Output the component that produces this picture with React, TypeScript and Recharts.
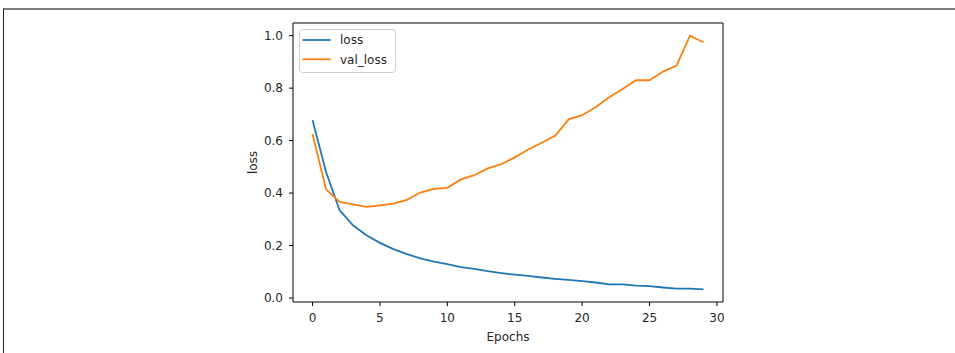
import React from "react";
import { Line, LineChart, ReferenceArea, XAxis, YAxis } from "recharts";

const epochs = [
  0, 1, 2, 3, 4, 5, 6, 7, 8, 9, 10, 11, 12, 13, 14, 15, 16, 17, 18, 19, 20,
  21, 22, 23, 24, 25, 26, 27, 28, 29,
];

const loss = [
  0.678, 0.48, 0.335, 0.277, 0.239, 0.21, 0.186, 0.167, 0.151, 0.139, 0.129,
  0.118, 0.111, 0.102, 0.095, 0.089, 0.084, 0.078, 0.073, 0.069, 0.064, 0.059,
  0.052, 0.052, 0.047, 0.045, 0.04, 0.036, 0.036, 0.033,
];

const valLoss = [
  0.625, 0.414, 0.366, 0.357, 0.347, 0.353, 0.36, 0.374, 0.402, 0.416, 0.42,
  0.452, 0.468, 0.494, 0.51, 0.536, 0.566, 0.592, 0.618, 0.681, 0.697, 0.727,
  0.765, 0.797, 0.83, 0.83, 0.863, 0.886, 1.0, 0.975,
];

const xTicks = [0, 5, 10, 15, 20, 25, 30];
const yTicks = [0, 0.2, 0.4, 0.6, 0.8, 1.0];

const BLUE = "#1f77b4";
const ORANGE = "#ff7f0e";
const FONT = "'DejaVu Sans', sans-serif";
const TEXT = "#262626";

const rows = epochs.map((e, i) => ({ epoch: e, loss: loss[i], val_loss: valLoss[i] }));

// matplotlib-style 5% padding around the data range
const pad = (lo: number, hi: number): [number, number] => {
  const m = (hi - lo) * 0.05;
  return [lo - m, hi + m];
};
const xDomain = pad(Math.min(...epochs), Math.max(...epochs));
const allY = [...loss, ...valLoss];
const yDomain = pad(Math.min(...allY), Math.max(...allY));

const tickStyle = { fill: TEXT, fontSize: 12, fontFamily: FONT };

const XLabel = ({ viewBox }: any) => (
  <text
    x={viewBox.x + viewBox.width / 2}
    y={viewBox.y + 39}
    textAnchor="middle"
    fill={TEXT}
    fontSize={12}
    fontFamily={FONT}
  >
    Epochs
  </text>
);

const YLabel = ({ viewBox }: any) => {
  const x = viewBox.x + 24;
  const y = viewBox.y + viewBox.height / 2;
  return (
    <text
      x={x}
      y={y}
      transform={`rotate(-90, ${x}, ${y})`}
      textAnchor="middle"
      fill={TEXT}
      fontSize={12}
      fontFamily={FONT}
    >
      loss
    </text>
  );
};

const legendItems = [
  { name: "loss", color: BLUE },
  { name: "val_loss", color: ORANGE },
];

function LegendBox() {
  return (
    <svg
      width={97}
      height={44}
      style={{ position: "absolute", left: 299, top: 29 }}
    >
      <rect
        x={0.5}
        y={0.5}
        width={96}
        height={43}
        rx={3}
        fill="rgba(255,255,255,0.8)"
        stroke="#cccccc"
      />
      {legendItems.map((it, i) => (
        <g key={it.name}>
          <line
            x1={3.5}
            x2={31.5}
            y1={11 + i * 19.3}
            y2={11 + i * 19.3}
            stroke={it.color}
            strokeWidth={1.8}
          />
          <text
            x={41}
            y={11 + i * 19.3}
            dy="0.36em"
            fill={TEXT}
            fontSize={12}
            fontFamily={FONT}
          >
            {it.name}
          </text>
        </g>
      ))}
    </svg>
  );
}

export default function App() {
  return (
    <div
      style={{
        position: "absolute",
        left: 0,
        top: 0,
        width: 955,
        height: 353,
        background: "#fff",
        overflow: "hidden",
      }}
    >
      <div
        style={{
          position: "absolute",
          left: 3,
          top: 8,
          right: 0,
          bottom: 0,
          borderTop: "2px solid #7d7d7d",
          borderLeft: "1px solid #222",
        }}
      />
      <LineChart
        width={955}
        height={353}
        data={rows}
        margin={{ top: 23, right: 232, bottom: 0, left: 233 }}
        style={{ position: "absolute", left: 0, top: 0 }}
      >
        <XAxis
          dataKey="epoch"
          type="number"
          domain={xDomain}
          ticks={xTicks}
          allowDataOverflow
          height={51}
          tickSize={4}
          tickMargin={7}
          tick={tickStyle}
          axisLine={false}
          tickLine={{ stroke: "#000" }}
          label={<XLabel />}
        />
        <YAxis
          type="number"
          domain={yDomain}
          ticks={yTicks}
          allowDataOverflow
          width={60}
          tickSize={4}
          tickMargin={6}
          tick={tickStyle}
          tickFormatter={(v: number) => v.toFixed(1)}
          axisLine={false}
          tickLine={{ stroke: "#000" }}
          label={<YLabel />}
        />
        {/* axes frame on all four sides */}
        <ReferenceArea
          x1={xDomain[0]}
          x2={xDomain[1]}
          y1={yDomain[0]}
          y2={yDomain[1]}
          fill="none"
          fillOpacity={0}
          stroke="#000"
          strokeWidth={1}
          ifOverflow="visible"
        />
        <Line
          dataKey="loss"
          stroke={BLUE}
          strokeWidth={1.8}
          dot={false}
          type="linear"
          isAnimationActive={false}
        />
        <Line
          dataKey="val_loss"
          stroke={ORANGE}
          strokeWidth={1.8}
          dot={false}
          type="linear"
          isAnimationActive={false}
        />
      </LineChart>
      <LegendBox />
    </div>
  );
}
